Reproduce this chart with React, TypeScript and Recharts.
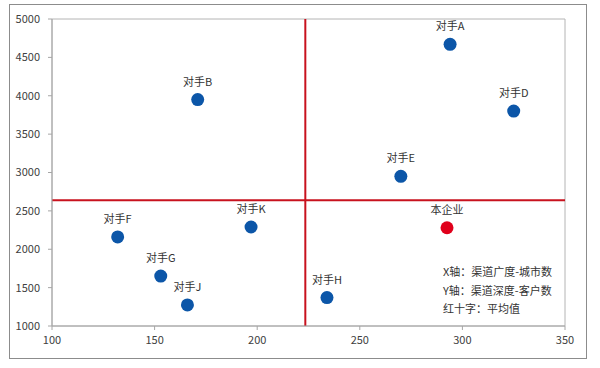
import { ScatterChart, Scatter, XAxis, YAxis, ReferenceLine, ReferenceArea } from "recharts"

// competitors
const rivalNames = ["对手A", "对手B", "对手D", "对手E", "对手F", "对手G", "对手J", "对手K", "对手H"]
const rivalX = [294, 171, 325, 270, 132, 153, 166, 197, 234]
const rivalY = [4670, 3950, 3800, 2950, 2160, 1650, 1275, 2290, 1370]

// our company
const ownNames = ["本企业"]
const ownX = [292.5]
const ownY = [2280]

const xTicks = [100, 150, 200, 250, 300, 350]
const yTicks = [1000, 1500, 2000, 2500, 3000, 3500, 4000, 4500, 5000]

const notes = ["X轴：渠道广度-城市数", "Y轴：渠道深度-客户数", "红十字：平均值"]

const rivals = rivalNames.map((name, i) => ({ name, x: rivalX[i], y: rivalY[i] }))
const own = ownNames.map((name, i) => ({ name, x: ownX[i], y: ownY[i] }))

// red cross = average of all points
const allX = [...rivalX, ...ownX]
const allY = [...rivalY, ...ownY]
const avgX = allX.reduce((a, b) => a + b, 0) / allX.length
const avgY = allY.reduce((a, b) => a + b, 0) / allY.length

const FONT = '"Noto Sans CJK SC", "Noto Sans", sans-serif'

function dot(color: string) {
  return (props: any) => {
    const { cx, cy, payload } = props
    return (
      <g>
        <circle cx={cx} cy={cy} r={6.5} fill={color} />
        <text x={cx} y={cy - 14} textAnchor="middle" fontSize={11} fill="#333" fontFamily={FONT}>
          {payload.name}
        </text>
      </g>
    )
  }
}

export default function App() {
  return (
    <div style={{ position: "absolute", left: 0, top: 0, width: 600, height: 368, background: "#fff", fontFamily: FONT }}>
      <div
        style={{
          position: "absolute",
          left: 9,
          top: 4,
          width: 576,
          height: 353,
          border: "1px solid #8c8c8c",
        }}
      />
      <ScatterChart width={600} height={368} margin={{ top: 19, right: 35, bottom: 12, left: 0 }}>
        <XAxis
          type="number"
          dataKey="x"
          domain={[100, 350]}
          ticks={xTicks}
          height={30}
          tick={{ fill: "#404040", fontSize: 11 }}
          tickSize={4}
          tickMargin={6}
          axisLine={{ stroke: "#a6a6a6" }}
          tickLine={{ stroke: "#a6a6a6" }}
        />
        <YAxis
          type="number"
          dataKey="y"
          domain={[1000, 5000]}
          ticks={yTicks}
          width={52}
          tick={{ fill: "#404040", fontSize: 11 }}
          tickSize={4}
          tickMargin={8}
          axisLine={{ stroke: "#a6a6a6" }}
          tickLine={{ stroke: "#a6a6a6" }}
        />
        <ReferenceArea x1={100} x2={350} y1={1000} y2={5000} fill="none" stroke="#b4b4b4" ifOverflow="visible" />
        <ReferenceLine x={avgX} stroke="#c8121e" strokeWidth={2} />
        <ReferenceLine y={avgY} stroke="#c8121e" strokeWidth={2} />
        <Scatter data={rivals} shape={dot("#0c56a8")} isAnimationActive={false} />
        <Scatter data={own} shape={dot("#e0001b")} isAnimationActive={false} />
      </ScatterChart>
      <div style={{ position: "absolute", left: 443, top: 262, fontSize: 11, lineHeight: "18.5px", color: "#333" }}>
        {notes.map((n) => (
          <div key={n}>{n}</div>
        ))}
      </div>
    </div>
  )
}
